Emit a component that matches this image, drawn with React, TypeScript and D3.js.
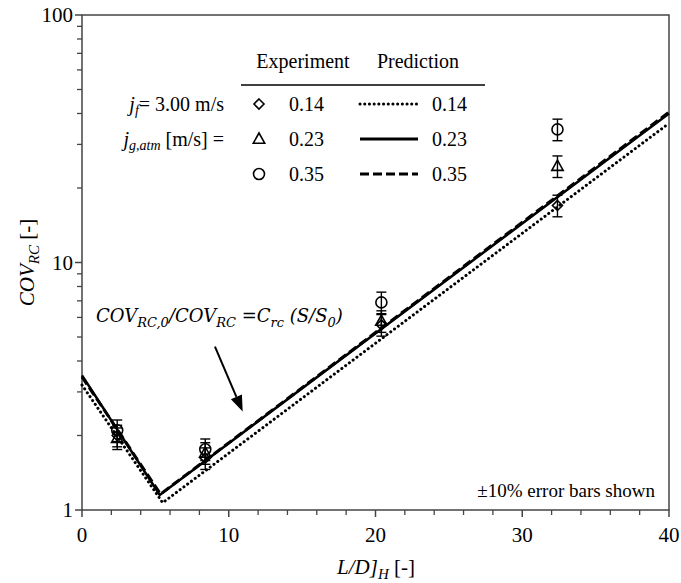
import React from "react";
import * as d3 from "d3";

const W = 681;
const H = 583;

// Experiment data: L/D]_H positions and COV_RC values per gas flux
const expX = [2.4, 8.4, 20.4, 32.4];
const exp014 = [2.0, 1.62, 5.6, 17.0];
const exp023 = [1.95, 1.7, 5.8, 24.5];
const exp035 = [2.1, 1.76, 6.9, 34.5];
const errFrac = 0.1;

// Prediction lines (piecewise log-linear)
const predX014 = [0, 5.5, 40];
const pred014 = [3.2, 1.07, 36.5];
const predX023 = [0, 5.3, 40];
const pred023 = [3.5, 1.15, 40];
const predX035 = [0, 5.35, 40];
const pred035 = [3.45, 1.16, 40.5];

const xTicksMajor = [0, 10, 20, 30, 40];
const yTicksMajor = [1, 10, 100];

const serif = "'Liberation Serif', 'DejaVu Serif', serif";

export default function App() {
  const m = { l: 82, r: 669, t: 15, b: 510 };
  const x = d3.scaleLinear().domain([0, 40]).range([m.l, m.r]);
  const y = d3.scaleLog().domain([1, 100]).range([m.b, m.t]);

  const line = d3
    .line<[number, number]>()
    .x((d) => x(d[0]))
    .y((d) => y(d[1]));

  const xMinor = d3.range(0, 41, 2).filter((v) => v % 10 !== 0);
  const yMinor: number[] = [];
  [1, 10].forEach((dec) => {
    for (let k = 2; k <= 9; k++) yMinor.push(dec * k);
  });

  const stroke = "#000";
  const axisColor = "#444";

  const diamond = (cx: number, cy: number, s = 5) =>
    `M${cx},${cy - s}L${cx + s},${cy}L${cx},${cy + s}L${cx - s},${cy}Z`;
  const triangle = (cx: number, cy: number, s = 6) =>
    `M${cx},${cy - s}L${cx + s * 0.95},${cy + s * 0.7}L${cx - s * 0.95},${cy + s * 0.7}Z`;

  const series = [
    { vals: exp014, shape: "diamond" },
    { vals: exp023, shape: "triangle" },
    { vals: exp035, shape: "circle" },
  ];

  const marker = (shape: string, cx: number, cy: number, key: string) => {
    if (shape === "diamond")
      return <path key={key} d={diamond(cx, cy)} fill="none" stroke={stroke} strokeWidth={1.6} />;
    if (shape === "triangle")
      return <path key={key} d={triangle(cx, cy)} fill="none" stroke={stroke} strokeWidth={1.6} />;
    return <circle key={key} cx={cx} cy={cy} r={5.5} fill="none" stroke={stroke} strokeWidth={1.6} />;
  };

  const arrowStart: [number, number] = [9.06, 4.57];
  const arrowEnd: [number, number] = [10.95, 2.5];

  const ax0 = x(arrowStart[0]);
  const ay0 = y(arrowStart[1]);
  const ax1 = x(arrowEnd[0]);
  const ay1 = y(arrowEnd[1]);
  const ang = Math.atan2(ay1 - ay0, ax1 - ax0);
  const hl = 16;
  const hw = 6;
  const bx = ax1 - hl * Math.cos(ang);
  const by = ay1 - hl * Math.sin(ang);
  const head = `M${ax1},${ay1}L${bx + hw * Math.sin(ang)},${by - hw * Math.cos(ang)}L${bx - hw * Math.sin(ang)},${by + hw * Math.cos(ang)}Z`;

  const lgY = [104, 139, 174];
  const lgShapes = ["diamond", "triangle", "circle"];
  const lgLabels = ["0.14", "0.23", "0.35"];
  const lgDash = ["0.1 4.6", "none", "9 4"];

  const annFont = "'DejaVu Serif', serif";

  return (
    <svg width={W} height={H} style={{ position: "absolute", left: 0, top: 0, background: "#fff" }}>
      <rect x={0} y={0} width={W} height={H} fill="#fff" />
      <g fontFamily={serif}>
        {/* frame */}
        <rect x={m.l} y={m.t} width={m.r - m.l} height={m.b - m.t} fill="none" stroke={axisColor} strokeWidth={1.5} />

        {/* y ticks */}
        {yTicksMajor.map((v) => (
          <g key={"ym" + v}>
            <line x1={m.l - 7} x2={m.l} y1={y(v)} y2={y(v)} stroke={axisColor} strokeWidth={1.5} />
            <text x={m.l - 9} y={y(v)} dy="0.35em" textAnchor="end" fontSize={21}>
              {v}
            </text>
          </g>
        ))}
        {yMinor.map((v) => (
          <line key={"yn" + v} x1={m.l - 5} x2={m.l} y1={y(v)} y2={y(v)} stroke={axisColor} strokeWidth={1.3} />
        ))}

        {/* x ticks */}
        {xTicksMajor.map((v) => (
          <g key={"xm" + v}>
            <line x1={x(v)} x2={x(v)} y1={m.b} y2={m.b + 7} stroke={axisColor} strokeWidth={1.5} />
            <text x={x(v)} y={m.b + 32} textAnchor="middle" fontSize={21}>
              {v}
            </text>
          </g>
        ))}
        {xMinor.map((v) => (
          <line key={"xn" + v} x1={x(v)} x2={x(v)} y1={m.b} y2={m.b + 5} stroke={axisColor} strokeWidth={1.3} />
        ))}

        {/* axis titles */}
        <text transform={`translate(34,${y(10)}) rotate(-90)`} textAnchor="middle" fontSize={21}>
          <tspan fontStyle="italic">COV</tspan>
          <tspan fontStyle="italic" fontSize={15} dy={5}>RC</tspan>
          <tspan dy={-5}> [-]</tspan>
        </text>
        <text x={376} y={574} textAnchor="middle" fontSize={21}>
          <tspan fontStyle="italic">L/D]</tspan>
          <tspan fontStyle="italic" fontSize={15} dy={5}>H</tspan>
          <tspan dy={-5}> [-]</tspan>
        </text>

        {/* prediction lines */}
        <path d={line(predX014.map((v, i) => [v, pred014[i]]) as any) || ""} fill="none" stroke={stroke} strokeWidth={3} strokeDasharray="0.1 4.6" strokeLinecap="round" />
        <path d={line(predX035.map((v, i) => [v, pred035[i]]) as any) || ""} fill="none" stroke={stroke} strokeWidth={3} strokeDasharray="9 4" />
        <path d={line(predX023.map((v, i) => [v, pred023[i]]) as any) || ""} fill="none" stroke={stroke} strokeWidth={2.6} />

        {/* experiment points with error bars */}
        {series.map((s, si) =>
          s.vals.map((v, i) => {
            const cx = x(expX[i]);
            const yt = y(v * (1 + errFrac));
            const yb = y(v * (1 - errFrac));
            return (
              <g key={`p${si}-${i}`}>
                <line x1={cx} x2={cx} y1={yt} y2={yb} stroke={stroke} strokeWidth={1.4} />
                <line x1={cx - 5} x2={cx + 5} y1={yt} y2={yt} stroke={stroke} strokeWidth={1.4} />
                <line x1={cx - 5} x2={cx + 5} y1={yb} y2={yb} stroke={stroke} strokeWidth={1.4} />
                {marker(s.shape, cx, y(v), `m${si}-${i}`)}
              </g>
            );
          })
        )}

        {/* legend */}
        <text x={303} y={68} textAnchor="middle" fontSize={20}>Experiment</text>
        <text x={418} y={68} textAnchor="middle" fontSize={20}>Prediction</text>
        <line x1={241} x2={485} y1={85} y2={85} stroke={stroke} strokeWidth={1.5} />
        <text x={224} y={lgY[0]} dy="0.35em" textAnchor="end" fontSize={20}>
          <tspan fontStyle="italic">j</tspan>
          <tspan fontStyle="italic" fontSize={14} dy={4}>f</tspan>
          <tspan dy={-4}>= 3.00 m/s</tspan>
        </text>
        <text x={224} y={lgY[1]} dy="0.35em" textAnchor="end" fontSize={20}>
          <tspan fontStyle="italic">j</tspan>
          <tspan fontStyle="italic" fontSize={14} dy={4}>g,atm</tspan>
          <tspan dy={-4}> [m/s] =</tspan>
        </text>
        {lgY.map((ly, i) => (
          <g key={"lg" + i}>
            {marker(lgShapes[i], 259, ly, "lm" + i)}
            <text x={289} y={ly} dy="0.35em" fontSize={20}>{lgLabels[i]}</text>
            <line x1={360} x2={418} y1={ly} y2={ly} stroke={stroke} strokeWidth={3} strokeDasharray={lgDash[i]} strokeLinecap={i === 0 ? "round" : "butt"} />
            <text x={432} y={ly} dy="0.35em" fontSize={20}>{lgLabels[i]}</text>
          </g>
        ))}

        <text x={655} y={497} textAnchor="end" fontSize={19}>±10% error bars shown</text>
      </g>

      {/* annotation */}
      <text x={96} y={322} fontSize={18} fontStyle="italic" fontFamily={annFont}>
        <tspan>COV</tspan>
        <tspan fontSize={13} dy={5}>RC,0</tspan>
        <tspan dy={-5}>/COV</tspan>
        <tspan fontSize={13} dy={5}>RC</tspan>
        <tspan dy={-5}> =C</tspan>
        <tspan fontSize={13} dy={5}>rc</tspan>
        <tspan dy={-5}> (S/S</tspan>
        <tspan fontSize={13} dy={5}>0</tspan>
        <tspan dy={-5}>)</tspan>
      </text>
      <line x1={ax0} y1={ay0} x2={bx} y2={by} stroke={stroke} strokeWidth={2} />
      <path d={head} fill={stroke} />
    </svg>
  );
}
